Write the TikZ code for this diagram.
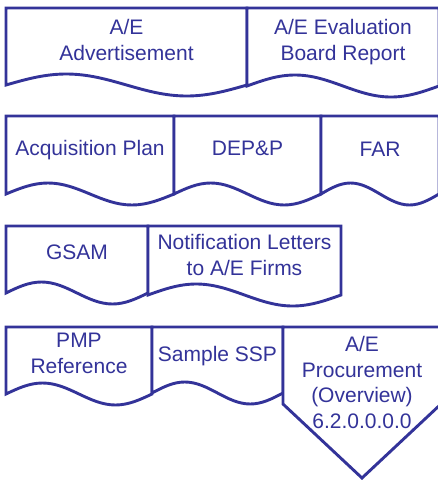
\documentclass[tikz,border=0pt]{standalone}
\usepackage{fontspec}
\setmainfont{Liberation Sans}
\usetikzlibrary{positioning}
\definecolor{aeblue}{RGB}{51,51,153}

% document shape: left x, right x, top y, bottom y
\newcommand{\docshape}[4]{%
  \draw[docline] (#1,#4) -- (#1,#3) -- (#2,#3) -- (#2,#4)
    sin ({#2-(#2-#1)/4},{#4+11}) cos ({(#1+#2)/2},#4)
    sin ({#1+(#2-#1)/4},{#4-11}) cos (#1,#4) -- cycle;}

\begin{document}
\begin{tikzpicture}[x=1pt, y=-1pt,
    docline/.style={draw=aeblue, line width=2.9pt, fill=white},
    doctext/.style={text=aeblue, align=center, font=\fontsize{21}{25.5}\selectfont}]
    \useasboundingbox (0,0) rectangle (438,480);

    % Row 1
    \docshape{6}{247}{8}{85}
    \docshape{247}{439}{8}{86}
    \node[doctext] (advert) at (126.5, 40) {A/E\\Advertisement};
    \node[doctext] (board) at (343, 42) {A/E Evaluation\\Board Report};

    % Row 2
    \docshape{6}{174}{116}{194}
    \docshape{174}{321}{116}{194}
    \docshape{321}{439}{116}{194}
    \node[doctext] (acqplan) at (90, 150) {Acquisition Plan};
    \node[doctext] (depp) at (247.5, 148) {DEP\&P};
    \node[doctext] (far) at (380, 149.5) {FAR};

    % Row 3
    \docshape{6}{148}{226}{293}
    \docshape{148}{341}{226}{295}
    \node[doctext] (gsam) at (77, 252.5) {GSAM};
    \node[doctext] (letters) at (244.5, 255) {Notification Letters\\to A/E Firms};

    % Row 4
    \docshape{6}{152}{327}{394}
    \docshape{152}{283}{327}{393}
    \draw[docline] (283,327) -- (441,327) -- (441,404) -- (362,478) -- (283,404) -- cycle;
    \node[doctext] (pmp) at (79, 353.5) {PMP\\Reference};
    \node[doctext] (ssp) at (217.5, 355.7) {Sample SSP};
    \node[doctext] (overview) at (362, 382.5) {A/E\\Procurement\\(Overview)\\6.2.0.0.0.0};
\end{tikzpicture}
\end{document}
